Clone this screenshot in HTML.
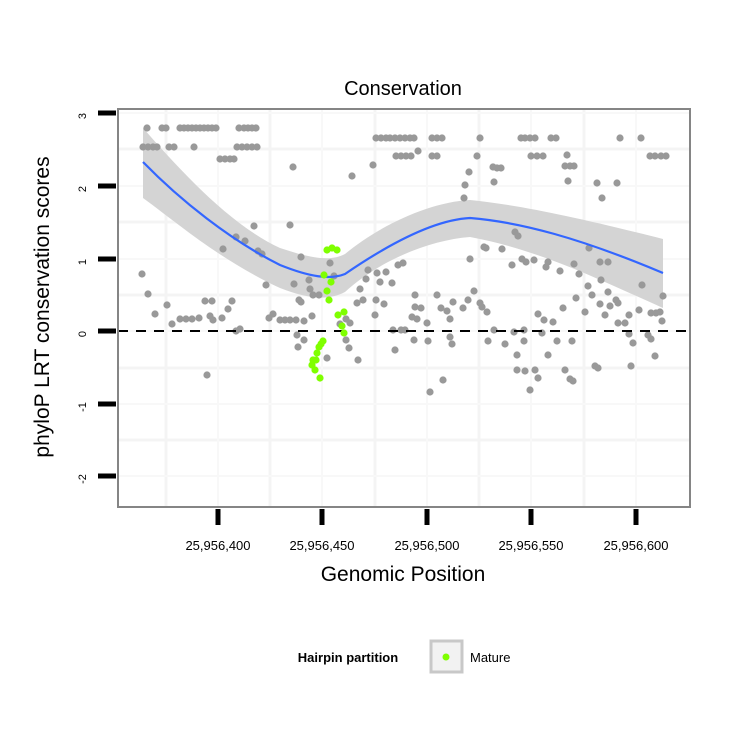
<!DOCTYPE html>
<html><head><meta charset="utf-8"><style>body{margin:0;background:#fff}svg{display:block;font-family:"Liberation Sans",sans-serif}</style></head>
<body>
<svg width="750" height="750" viewBox="0 0 750 750">
<rect x="0" y="0" width="750" height="750" fill="#fff"/>
<g stroke="#f4f4f4" stroke-width="3">
<line x1="118" y1="149" x2="690" y2="149"/><line x1="118" y1="222" x2="690" y2="222"/><line x1="118" y1="295" x2="690" y2="295"/><line x1="118" y1="368" x2="690" y2="368"/><line x1="118" y1="440" x2="690" y2="440"/>
<line x1="166" y1="109" x2="166" y2="507"/><line x1="270" y1="109" x2="270" y2="507"/><line x1="375" y1="109" x2="375" y2="507"/><line x1="479" y1="109" x2="479" y2="507"/><line x1="584" y1="109" x2="584" y2="507"/>
</g>
<g stroke="#f8f8f8" stroke-width="2">
<line x1="118" y1="113" x2="690" y2="113"/><line x1="118" y1="186" x2="690" y2="186"/><line x1="118" y1="259" x2="690" y2="259"/><line x1="118" y1="331" x2="690" y2="331"/><line x1="118" y1="404" x2="690" y2="404"/><line x1="118" y1="476" x2="690" y2="476"/>
<line x1="218" y1="109" x2="218" y2="507"/><line x1="322" y1="109" x2="322" y2="507"/><line x1="427" y1="109" x2="427" y2="507"/><line x1="531" y1="109" x2="531" y2="507"/><line x1="636" y1="109" x2="636" y2="507"/>
</g>
<path d="M143,128 C180,170 230,225 280,248 C310,258 330,262 345,254 C380,225 430,202 470,200 C520,205 580,218 663,239 L663,308 C600,280 540,250 470,237 C430,240 380,260 345,292 C330,300 310,300 280,288 C220,260 180,225 143,198 Z" fill="#d4d4d4"/>
<g id="gp" fill="#999"></g>
<line x1="118" y1="331" x2="690" y2="331" stroke="#000" stroke-width="2" stroke-dasharray="10,8"/>
<path d="M143,162 C180,200 230,240 280,265 C310,277 330,280 345,274 C380,250 430,220 470,218 C520,222 580,238 663,273" fill="none" stroke="#3366ff" stroke-width="2.2"/>
<g id="gg" fill="#7fff00"></g>
<rect x="118" y="109" width="572" height="398" fill="none" stroke="#858585" stroke-width="2"/>
<g stroke="#000" stroke-width="5">
<line x1="98" y1="113" x2="116" y2="113"/><line x1="98" y1="186" x2="116" y2="186"/><line x1="98" y1="259" x2="116" y2="259"/><line x1="98" y1="331" x2="116" y2="331"/><line x1="98" y1="404" x2="116" y2="404"/><line x1="98" y1="476" x2="116" y2="476"/>
<line x1="218" y1="509" x2="218" y2="525"/><line x1="322" y1="509" x2="322" y2="525"/><line x1="427" y1="509" x2="427" y2="525"/><line x1="531" y1="509" x2="531" y2="525"/><line x1="636" y1="509" x2="636" y2="525"/>
</g>
<g font-size="11" text-anchor="middle">
<text transform="translate(86,116) rotate(-90)">3</text>
<text transform="translate(86,189) rotate(-90)">2</text>
<text transform="translate(86,262) rotate(-90)">1</text>
<text transform="translate(86,334) rotate(-90)">0</text>
<text transform="translate(86,407) rotate(-90)">-1</text>
<text transform="translate(86,479) rotate(-90)">-2</text>
</g>
<g font-size="13" text-anchor="middle">
<text x="218" y="550">25,956,400</text><text x="322" y="550">25,956,450</text><text x="427" y="550">25,956,500</text><text x="531" y="550">25,956,550</text><text x="636" y="550">25,956,600</text>
</g>
<text x="403" y="581" font-size="21" text-anchor="middle">Genomic Position</text>
<text x="403" y="95" font-size="20" text-anchor="middle">Conservation</text>
<text transform="translate(49,307) rotate(-90)" font-size="21" text-anchor="middle">phyloP LRT conservation scores</text>
<text x="348" y="662" font-size="13" font-weight="bold" text-anchor="middle">Hairpin partition</text>
<rect x="431" y="641" width="31" height="31" fill="#f2f2f2" stroke="#c8c8c8" stroke-width="3"/>
<circle cx="446" cy="657" r="3.5" fill="#7fff00"/>
<text x="470" y="662" font-size="13">Mature</text>
</svg>
<script>
var G=[[147,128],[162,128],[166,128],[180,128],[184,128],[188,128],[192,128],[196,128],[200,128],[204,128],[208,128],[212,128],[216,128],[239,128],[244,128],[248,128],[252,128],[256,128],
[143,147],[148,147],[153,147],[157,147],[169,147],[174,147],[194,147],[237,147],[242,147],[247,147],[252,147],[257,147],
[220,159],[225,159],[230,159],[234,159],[293,167],[352,176],
[376,138],[381,138],[386,138],[390,138],[395,138],[400,138],[405,138],[410,138],[414,138],[432,138],[437,138],[442,138],[480,138],[521,138],[525,138],[530,138],[535,138],[551,138],[556,138],[620,138],[641,138],
[396,156],[401,156],[406,156],[411,156],[418,151],[432,156],[437,156],[477,156],[531,156],[537,156],[543,156],[567,155],[650,156],[655,156],[661,156],[666,156],
[373,165],[493,167],[497,168],[501,168],[565,166],[570,166],[574,166],[469,172],[465,185],[494,182],[568,181],[597,183],[617,183],[602,198],[464,198],
[142,274],[148,294],[155,314],[167,305],[172,324],[180,319],[186,319],[192,319],[199,318],[205,301],[212,301],[210,316],[213,320],[207,375],[222,318],[228,309],[232,301],[236,331],[240,329],[223,249],[236,237],[254,226],[245,241],[258,251],[262,254],[266,285],[290,225],[269,318],[273,314],[280,320],[285,320],[290,320],[296,320],[304,321],[297,335],[299,300],[310,289],[301,302],[294,284],[301,257],[309,280],[313,295],[312,316],[304,340],[298,347],[319,295],
[330,263],[334,276],[346,319],[350,323],[346,340],[349,348],[340,324],[327,358],[358,360],[357,303],[360,289],[366,279],[368,270],[363,300],[377,273],[380,282],[386,272],[392,283],[398,265],[403,263],[376,300],[375,315],[384,304],[393,330],[401,330],[405,330],[395,350],[412,317],[415,295],[415,307],[421,308],[414,340],[417,319],[427,323],[437,295],[441,308],[428,341],[447,311],[450,319],[453,302],[463,308],[468,300],[452,344],[450,337],[474,291],[480,303],[482,307],[488,341],[494,330],[487,312],[515,232],[518,236],[470,259],[484,247],[486,248],[502,249],[512,265],[522,259],[526,262],[534,260],[546,267],[548,262],[560,271],[574,264],[576,298],[579,274],[588,286],[592,295],[601,280],[608,292],[616,300],[618,303],[629,315],[639,310],[642,285],[651,313],[656,313],[660,312],[662,321],[663,296],[589,248],[600,262],[608,262],[585,312],[600,304],[605,315],[610,306],[618,323],[625,323],[629,334],[633,343],[648,335],[651,339],[655,356],[631,366],[595,366],[598,368],[525,371],[548,355],[505,344],[517,370],[514,332],[517,355],[565,370],[542,333],[557,341],[553,322],[544,320],[524,330],[538,314],[563,308],[572,341],[570,379],[573,381],[430,392],[443,380],[530,390],[538,378],[524,341],[535,370]];
var R=[[327,250],[332,248],[337,250],[324,275],[331,282],[327,291],[329,300],[338,315],[344,312],[342,326],[344,333],[317,353],[319,347],[321,344],[323,341],[313,360],[312,365],[316,360],[320,378],[315,370]];
function add(id,a,c){var g=document.getElementById(id),s="";a.forEach(function(p){s+='<circle cx="'+p[0]+'" cy="'+p[1]+'" r="3.6"/>';});g.innerHTML=s;}
add("gp",G);add("gg",R);
</script>
</body></html>
